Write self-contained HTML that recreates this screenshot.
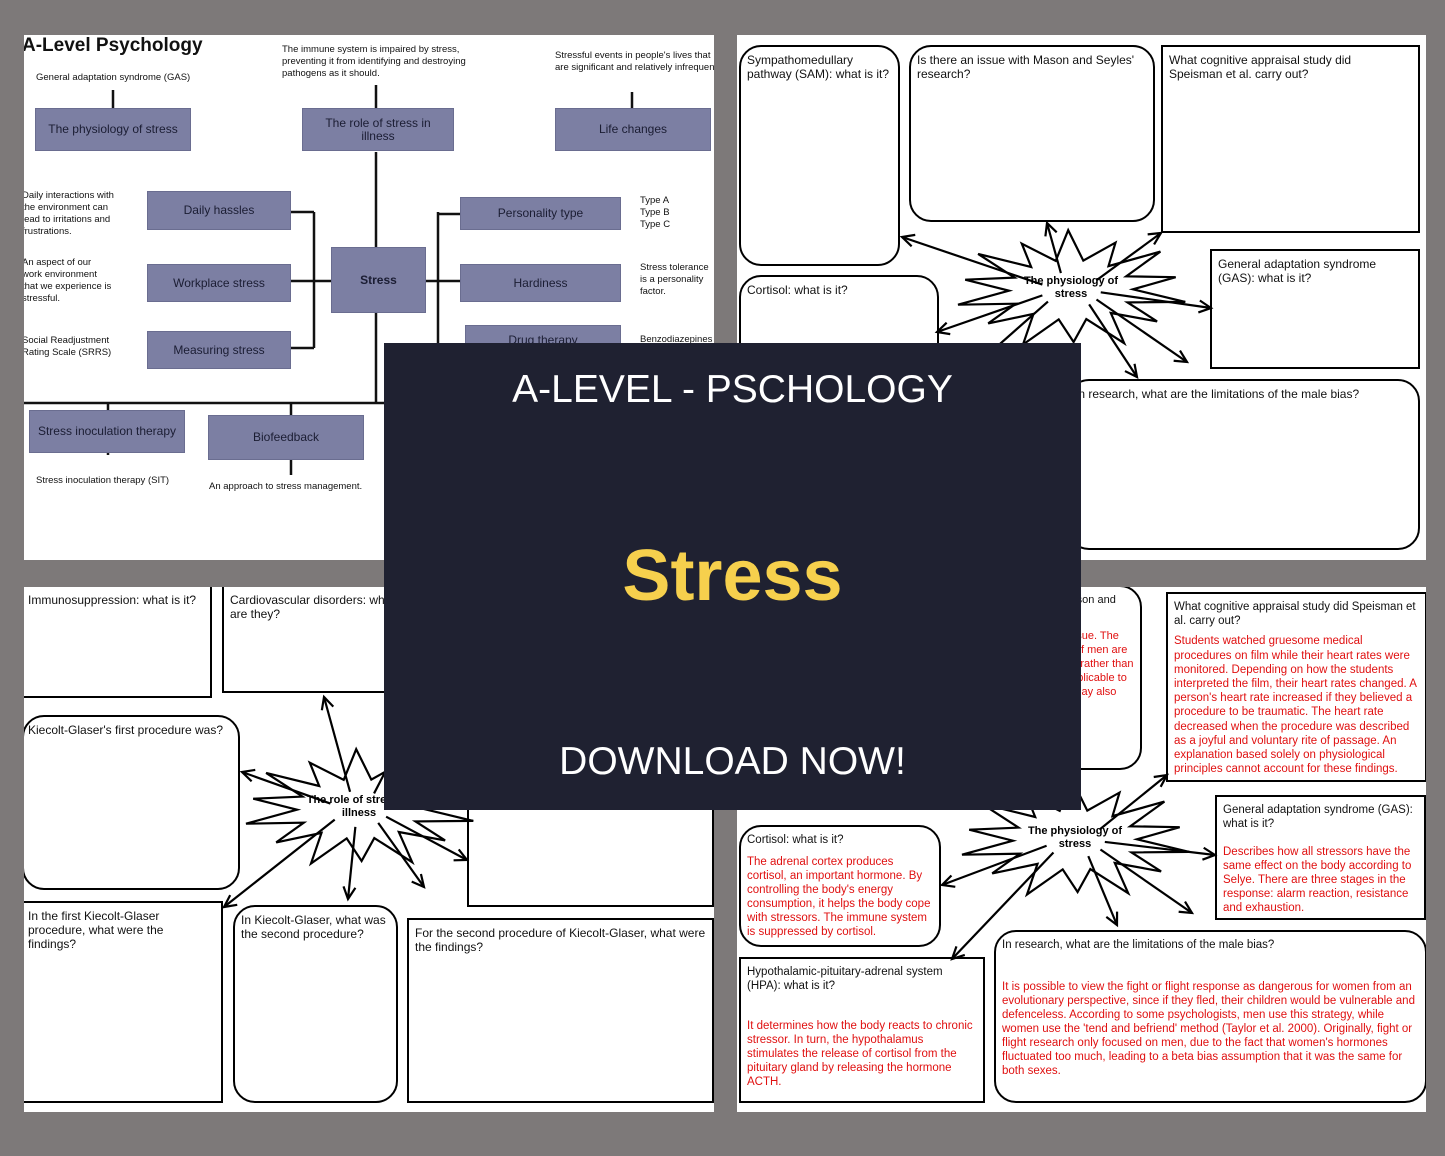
<!DOCTYPE html>
<html><head><meta charset="utf-8"><style>
*{margin:0;padding:0;box-sizing:border-box}
body{width:1445px;height:1156px;background:#7d7979;position:relative;overflow:hidden;font-family:"Liberation Sans",Arial,sans-serif;color:#111}
.p{position:absolute;background:#fff;overflow:hidden}
.a{position:absolute}
.sb{position:absolute;background:#7c7fa3;border:1px solid #6a6d90;color:#1b1d33;font-size:12px;display:flex;align-items:center;justify-content:center;text-align:center;line-height:13px}
.t{position:absolute;font-size:9.5px;line-height:12px}
.rb{position:absolute;border:2px solid #000;border-radius:22px;background:#fff;font-size:12px;line-height:14px;padding:6px 6px}
.sq{position:absolute;border:2px solid #000;background:#fff;font-size:12px;line-height:14px;padding:6px 6px}
.r{color:#e01010;display:block;margin-top:8px}
svg{position:absolute;left:0;top:0}
</style></head><body>

<!-- TL -->
<div class="p" style="left:24px;top:35px;width:690px;height:525px">
<svg width="690" height="525" stroke="#111" stroke-width="2.5" fill="none">
<path d="M89 55V73M352 50V73M608 57V73M352 117V212M352 278V368M0 368H360M84 368V420M267 368V380M267 425V440M290 177V313M267 177H290M267 246H290M267 313H290M414 177V310M414 179H436M414 246H436M414 310H436M290 246H307M402 246H414M84 374V380"/>
</svg>
<div class="a" style="left:-2px;top:0;font-size:19px;font-weight:bold">A-Level Psychology</div>
<div class="t" style="left:12px;top:37px">General adaptation syndrome (GAS)</div>
<div class="t" style="left:258px;top:9px;width:200px">The immune system is impaired by stress, preventing it from identifying and destroying pathogens as it should.</div>
<div class="t" style="left:531px;top:15px;width:170px">Stressful events in people's lives that are significant and relatively infrequent.</div>
<div class="sb" style="left:11px;top:73px;width:156px;height:43px">The physiology of stress</div>
<div class="sb" style="left:278px;top:73px;width:152px;height:43px;padding:0 20px">The role of stress in illness</div>
<div class="sb" style="left:531px;top:73px;width:156px;height:43px">Life changes</div>
<div class="t" style="left:-2px;top:155px;width:100px">Daily interactions with the environment can lead to irritations and frustrations.</div>
<div class="t" style="left:-2px;top:222px;width:90px">An aspect of our work environment that we experience is stressful.</div>
<div class="t" style="left:-2px;top:300px;width:100px">Social Readjustment Rating Scale (SRRS)</div>
<div class="sb" style="left:123px;top:156px;width:144px;height:39px">Daily hassles</div>
<div class="sb" style="left:123px;top:229px;width:144px;height:38px">Workplace stress</div>
<div class="sb" style="left:123px;top:296px;width:144px;height:38px">Measuring stress</div>
<div class="sb" style="left:307px;top:212px;width:95px;height:66px;font-weight:bold">Stress</div>
<div class="sb" style="left:436px;top:162px;width:161px;height:33px">Personality type</div>
<div class="sb" style="left:436px;top:229px;width:161px;height:38px">Hardiness</div>
<div class="sb" style="left:441px;top:290px;width:156px;height:30px">Drug therapy</div>
<div class="t" style="left:616px;top:160px">Type A<br>Type B<br>Type C</div>
<div class="t" style="left:616px;top:227px;width:76px">Stress tolerance is a personality factor.</div>
<div class="t" style="left:616px;top:299px">Benzodiazepines</div>
<div class="sb" style="left:5px;top:375px;width:156px;height:43px">Stress inoculation therapy</div>
<div class="sb" style="left:184px;top:380px;width:156px;height:45px">Biofeedback</div>
<div class="t" style="left:12px;top:440px">Stress inoculation therapy (SIT)</div>
<div class="t" style="left:185px;top:446px">An approach to stress management.</div>
</div>

<!-- TR -->
<div class="p" style="left:737px;top:35px;width:689px;height:525px">
<div class="rb" style="left:2px;top:10px;width:161px;height:221px">Sympathomedullary pathway (SAM): what is it?</div>
<div class="rb" style="left:172px;top:10px;width:246px;height:177px">Is there an issue with Mason and Seyles' research?</div>
<div class="sq" style="left:424px;top:10px;width:259px;height:188px;padding-right:20px">What cognitive appraisal study did Speisman et al. carry out?</div>
<div class="rb" style="left:2px;top:240px;width:200px;height:150px">Cortisol: what is it?</div>
<div class="sq" style="left:473px;top:214px;width:210px;height:120px">General adaptation syndrome (GAS): what is it?</div>
<div class="rb" style="left:330px;top:344px;width:353px;height:171px">In research, what are the limitations of the male bias?</div>
<svg width="689" height="525"><polygon id="s1" fill="#fff" stroke="#000" stroke-width="2.2"/>
<g stroke="#000" stroke-width="2.2" fill="none" id="a1"></g>
<text x="334" y="249" font-size="11" font-weight="bold" text-anchor="middle" font-family="Liberation Sans">The physiology of</text>
<text x="334" y="262" font-size="11" font-weight="bold" text-anchor="middle" font-family="Liberation Sans">stress</text></svg>
</div>

<!-- BL -->
<div class="p" style="left:24px;top:587px;width:690px;height:525px">
<div class="sq" style="left:-2px;top:-2px;width:190px;height:113px;padding-left:4px">Immunosuppression: what is it?</div>
<div class="sq" style="left:198px;top:-2px;width:200px;height:108px">Cardiovascular disorders: what are they?</div>
<div class="rb" style="left:-2px;top:128px;width:218px;height:175px;padding-left:4px">Kiecolt-Glaser's first procedure was?</div>
<div class="sq" style="left:-2px;top:314px;width:201px;height:202px;padding-left:4px;padding-right:14px">In the first Kiecolt-Glaser procedure, what were the findings?</div>
<div class="rb" style="left:209px;top:318px;width:165px;height:198px">In Kiecolt-Glaser, what was the second procedure?</div>
<div class="sq" style="left:383px;top:331px;width:307px;height:185px">For the second procedure of Kiecolt-Glaser, what were the findings?</div>
<div class="sq" style="left:443px;top:210px;width:247px;height:110px"></div>
<svg width="690" height="525"><polygon id="s2" fill="#fff" stroke="#000" stroke-width="2.2"/>
<g stroke="#000" stroke-width="2.2" fill="none" id="a2"></g>
<text x="335" y="216" font-size="11" font-weight="bold" text-anchor="middle" font-family="Liberation Sans">The role of stress in</text>
<text x="335" y="229" font-size="11" font-weight="bold" text-anchor="middle" font-family="Liberation Sans">illness</text></svg>
</div>

<!-- BR -->
<div class="p" style="left:737px;top:587px;width:689px;height:525px">
<div class="rb" style="left:210px;top:-2px;width:195px;height:185px;font-size:11px">Is there an issue with Mason and Seyles' research?<span class="r">Yes, there is an ethical issue. The physiological responses of men are nearly similar to humans, rather than other species. It is not applicable to humans. Female stress may also differ.</span></div>
<div class="sq" style="left:429px;top:5px;width:261px;height:190px;font-size:11.5px;line-height:14.2px">What cognitive appraisal study did Speisman et al. carry out?<span class="r" style="margin-top:6px">Students watched gruesome medical procedures on film while their heart rates were monitored. Depending on how the students interpreted the film, their heart rates changed. A person's heart rate increased if they believed a procedure to be traumatic. The heart rate decreased when the procedure was described as a joyful and voluntary rite of passage. An explanation based solely on physiological principles cannot account for these findings.</span></div>
<div class="rb" style="left:2px;top:238px;width:202px;height:122px;font-size:11.5px">Cortisol: what is it?<span class="r" style="margin-top:8px">The adrenal cortex produces cortisol, an important hormone. By controlling the body's energy consumption, it helps the body cope with stressors. The immune system is suppressed by cortisol.</span></div>
<div class="sq" style="left:478px;top:208px;width:211px;height:125px;font-size:11.5px">General adaptation syndrome (GAS): what is it?<span class="r" style="margin-top:14px">Describes how all stressors have the same effect on the body according to Selye. There are three stages in the response: alarm reaction, resistance and exhaustion.</span></div>
<div class="sq" style="left:2px;top:370px;width:246px;height:146px;font-size:11.5px">Hypothalamic-pituitary-adrenal system (HPA): what is it?<span class="r" style="margin-top:26px">It determines how the body reacts to chronic stressor. In turn, the hypothalamus stimulates the release of cortisol from the pituitary gland by releasing the hormone ACTH.</span></div>
<div class="rb" style="left:257px;top:343px;width:433px;height:173px;font-size:11.5px">In research, what are the limitations of the male bias?<span class="r" style="margin-top:28px">It is possible to view the fight or flight response as dangerous for women from an evolutionary perspective, since if they fled, their children would be vulnerable and defenceless. According to some psychologists, men use this strategy, while women use the 'tend and befriend' method (Taylor et al. 2000). Originally, fight or flight research only focused on men, due to the fact that women's hormones fluctuated too much, leading to a beta bias assumption that it was the same for both sexes.</span></div>
<svg width="689" height="525"><polygon id="s3" fill="#fff" stroke="#000" stroke-width="2.2"/>
<g stroke="#000" stroke-width="2.2" fill="none" id="a3"></g>
<text x="338" y="247" font-size="11" font-weight="bold" text-anchor="middle" font-family="Liberation Sans">The physiology of</text>
<text x="338" y="260" font-size="11" font-weight="bold" text-anchor="middle" font-family="Liberation Sans">stress</text></svg>
</div>

<!-- overlay -->
<div class="a" style="left:384px;top:343px;width:697px;height:467px;background:#1f2131;color:#fff;text-align:center">
<div style="position:absolute;top:25px;width:100%;font-size:39px;font-family:'Liberation Sans',sans-serif">A-LEVEL - PSCHOLOGY</div>
<div style="position:absolute;top:192px;width:100%;font-size:72px;font-weight:bold;color:#f6d04d;font-family:'Liberation Sans',sans-serif">Stress</div>
<div style="position:absolute;top:397px;width:100%;font-size:39px;font-family:'Liberation Sans',sans-serif">DOWNLOAD NOW!</div>
</div>

<script>
function star(id,cx,cy,rx,ry,ix,iy,n){var p=[];for(var i=0;i<n*2;i++){var a=Math.PI*i/n+0.2;var o=i%2==0;var r1=o?rx:ix,r2=o?ry:iy;if(o&&i%4==0){r1*=1.08;r2*=1.15}p.push((cx+r1*Math.cos(a)).toFixed(1)+','+(cy+r2*Math.sin(a)).toFixed(1));}document.getElementById(id).setAttribute('points',p.join(' '));}
function arrows(id,cx,cy,ts){var g=document.getElementById(id),h='';ts.forEach(function(t){var x=t[0],y=t[1],dx=x-cx,dy=y-cy,L=Math.sqrt(dx*dx+dy*dy),ux=dx/L,uy=dy/L;var sx=cx+ux*30,sy=cy+uy*18;var bx=x-ux*12,by=y-uy*12;h+='<line x1="'+sx+'" y1="'+sy+'" x2="'+x+'" y2="'+y+'"/>';h+='<polyline points="'+(bx-uy*6)+','+(by+ux*6)+' '+x+','+y+' '+(bx+uy*6)+','+(by-ux*6)+'"/>';});g.innerHTML=h;}
arrows('a1',334,255,[[165,202],[310,188],[424,198],[474,273],[450,327],[200,297],[400,342],[160,400]]);
star('s1',334,255,108,52,62,30,14);
arrows('a2',335,222,[[218,185],[300,110],[400,110],[443,273],[324,312],[200,320],[400,300]]);
star('s2',335,222,108,52,62,30,14);
arrows('a3',338,253,[[205,298],[430,188],[478,268],[455,326],[380,338],[215,372]]);
star('s3',338,253,108,52,62,30,14);
</script>
</body></html>
